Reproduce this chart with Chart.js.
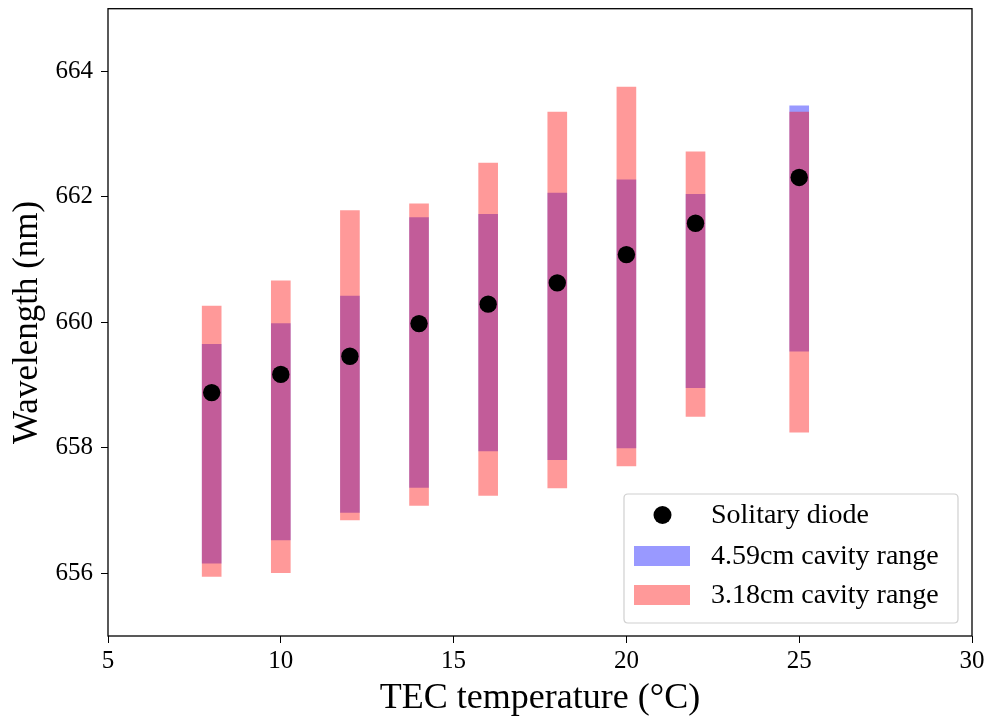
<!DOCTYPE html>
<html>
<head>
<meta charset="utf-8">
<script src="https://cdn.jsdelivr.net/npm/chart.js@4.4.1/dist/chart.umd.min.js"></script>
<style>
  html, body { margin: 0; padding: 0; background: #ffffff; }
  #wrap { width: 989px; height: 723px; }
</style>
</head>
<body>
<div id="wrap"><canvas id="c" width="989" height="723"></canvas></div>
<script>
// TEC temperatures (°C)
const temperatures = [8, 10, 12, 14, 16, 18, 20, 22, 25];
// Solitary diode wavelength (nm)
const solitary = [658.88, 659.17, 659.46, 659.98, 660.29, 660.63, 661.08, 661.58, 662.31];
// 4.59cm cavity range (nm)
const cav459Low  = [656.16, 656.53, 656.97, 657.37, 657.95, 657.81, 658.00, 658.96, 659.54];
const cav459High = [659.65, 659.98, 660.42, 661.67, 661.72, 662.06, 662.27, 662.04, 663.45];
// 3.18cm cavity range (nm)
const cav318Low  = [655.95, 656.01, 656.85, 657.08, 657.24, 657.36, 657.71, 658.50, 658.25];
const cav318High = [660.26, 660.66, 661.78, 661.89, 662.54, 663.35, 663.75, 662.72, 663.35];
// axis ticks
const xTicks = [5, 10, 15, 20, 25, 30];
const yTicks = [656, 658, 660, 662, 664];

const FONT = "'Liberation Serif', 'Times New Roman', serif";

const frameAndLegend = {
  id: 'frameAndLegend',
  afterDatasetsDraw(chart) {
    const ctx = chart.ctx;
    const a = chart.chartArea;
    ctx.save();
    // full box frame
    ctx.strokeStyle = '#000';
    ctx.lineWidth = 1.3;
    ctx.strokeRect(a.left, a.top, a.right - a.left, a.bottom - a.top);

    // legend
    const boxW = 334, boxH = 129;
    const bx = a.right - 14 - boxW;
    const by = a.bottom - 13 - boxH;
    const r = 4;
    ctx.beginPath();
    ctx.moveTo(bx + r, by);
    ctx.lineTo(bx + boxW - r, by);
    ctx.quadraticCurveTo(bx + boxW, by, bx + boxW, by + r);
    ctx.lineTo(bx + boxW, by + boxH - r);
    ctx.quadraticCurveTo(bx + boxW, by + boxH, bx + boxW - r, by + boxH);
    ctx.lineTo(bx + r, by + boxH);
    ctx.quadraticCurveTo(bx, by + boxH, bx, by + boxH - r);
    ctx.lineTo(bx, by + r);
    ctx.quadraticCurveTo(bx, by, bx + r, by);
    ctx.closePath();
    ctx.fillStyle = 'rgba(255,255,255,0.8)';
    ctx.fill();
    ctx.strokeStyle = '#d0d0d0';
    ctx.lineWidth = 1.2;
    ctx.stroke();

    const ds = chart.data.datasets;
    const rows = [ds[0], ds[2], ds[1]]; // solitary, 4.59, 3.18
    const rowY = [21, 62, 101];
    ctx.font = "28px " + FONT;
    ctx.textBaseline = 'middle';
    ctx.textAlign = 'left';
    rows.forEach((d, i) => {
      const cy = by + rowY[i];
      if (i === 0) {
        ctx.beginPath();
        ctx.arc(bx + 38.5, cy, 9, 0, Math.PI * 2);
        ctx.fillStyle = '#000';
        ctx.fill();
      } else {
        ctx.fillStyle = d.backgroundColor;
        ctx.fillRect(bx + 10, cy - 10, 56, 20);
      }
      ctx.fillStyle = '#000';
      ctx.fillText(d.label, bx + 87, cy + 1);
    });
    ctx.restore();
  }
};

const points = temperatures.map((t, i) => ({ x: t, y: solitary[i] }));
const bars459 = temperatures.map((t, i) => ({ x: t, y: [cav459Low[i], cav459High[i]] }));
const bars318 = temperatures.map((t, i) => ({ x: t, y: [cav318Low[i], cav318High[i]] }));

new Chart(document.getElementById('c'), {
  type: 'bar',
  data: {
    datasets: [
      {
        type: 'scatter',
        label: 'Solitary diode',
        data: points,
        backgroundColor: '#000',
        borderWidth: 0,
        pointRadius: 8.7,
        order: 0
      },
      {
        label: '3.18cm cavity range',
        data: bars318,
        backgroundColor: 'rgba(255,0,0,0.4)',
        borderWidth: 0,
        barThickness: 19,
        grouped: false,
        order: 1
      },
      {
        label: '4.59cm cavity range',
        data: bars459,
        backgroundColor: 'rgba(0,0,255,0.4)',
        borderWidth: 0,
        barThickness: 19,
        grouped: false,
        order: 2
      }
    ]
  },
  options: {
    responsive: false,
    animation: false,
    events: [],
    layout: { padding: { top: 3, right: 17, left: 0, bottom: 0 } },
    plugins: {
      legend: { display: false },
      tooltip: { enabled: false },
      title: { display: false }
    },
    scales: {
      x: {
        type: 'linear',
        min: 5,
        max: 30,
        offset: false,
        grid: { display: true, drawOnChartArea: false, drawTicks: true, tickLength: 7, color: '#000', offset: false },
        border: { display: false },
        afterBuildTicks: (s) => { s.ticks = xTicks.map(v => ({ value: v })); },
        afterFit: (s) => { s.height = 87; s.paddingLeft = 0; s.paddingRight = 0; },
        ticks: { color: '#000', font: { family: FONT, size: 25 }, padding: 3, maxRotation: 0, autoSkip: false },
        title: { display: true, text: 'TEC temperature (°C)', color: '#000', font: { family: FONT, size: 36 }, padding: { top: 0, bottom: 3 } }
      },
      y: {
        type: 'linear',
        min: 655,
        max: 665,
        grid: { display: true, drawOnChartArea: false, drawTicks: true, tickLength: 7, color: '#000' },
        border: { display: false },
        afterBuildTicks: (s) => { s.ticks = yTicks.map(v => ({ value: v })); },
        afterFit: (s) => { s.width = 108; s.paddingTop = 0; s.paddingBottom = 0; },
        ticks: { color: '#000', font: { family: FONT, size: 25 }, padding: 8, autoSkip: false },
        title: { display: true, text: 'Wavelength (nm)', color: '#000', font: { family: FONT, size: 35 }, padding: { top: 7, bottom: 0 } }
      }
    }
  },
  plugins: [frameAndLegend]
});
</script>
</body>
</html>
